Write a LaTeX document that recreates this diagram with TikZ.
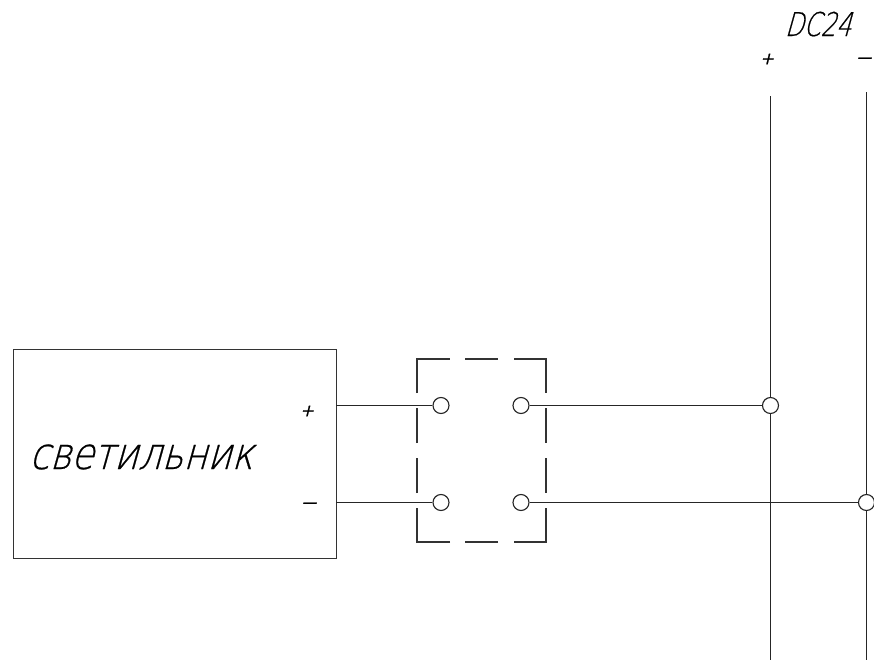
\documentclass[tikz,border=0pt]{standalone}
\usepackage{fontspec}
\newfontfamily\cadfont[FakeSlant=0.28,FakeStretch=0.835,FakeBold=0.5]{DejaVu Sans ExtraLight}
\newfontfamily\cadnarrow[FakeSlant=0.28,FakeStretch=0.74,FakeBold=0.5]{DejaVu Sans ExtraLight}
\newfontfamily\cadsign[FakeSlant=0.25,FakeBold=0.8]{DejaVu Sans}
\tikzset{
  x=0.75pt,y=-0.75pt,
  wire/.style={draw=black!85,line width=0.9pt},
  framebox/.style={draw=black!80,line width=0.85pt,line cap=butt},
  term/.style={circle,draw=black!85,fill=white,line width=0.85pt,minimum size=12pt,inner sep=0pt},
  lbl/.style={text=black,inner sep=0pt},
  sign/.style={lbl,font=\cadsign\fontsize{12.5}{12.5}\selectfont},
  minussign/.style={lbl,font=\cadsign\fontsize{11}{11}\selectfont}
}
\begin{document}
\begin{tikzpicture}
\useasboundingbox (0,0) rectangle (874,661);
\clip (0,0) rectangle (874,661);
\node[draw=black!80,line width=0.85pt,minimum width=242.25pt,minimum height=156.75pt,inner sep=0pt,anchor=north west] (lamp) at (13,349) {};
\coordinate (lampP) at (336,405.5);
\coordinate (lampM) at (336,502.5);
\coordinate (plusTop) at (770.5,96);
\coordinate (plusBot) at (770.5,660);
\coordinate (minusTop) at (866.5,92);
\coordinate (minusBot) at (866.5,660);
\draw[wire] (plusTop) -- (plusBot);
\draw[wire] (minusTop) -- (minusBot);
\draw[framebox] (417,393) -- (417,359) -- (450,359);
\draw[framebox] (465,359) -- (498,359);
\draw[framebox] (514,359) -- (546,359) -- (546,393);
\draw[framebox] (546,408) -- (546,443);
\draw[framebox] (546,458) -- (546,493);
\draw[framebox] (546,508) -- (546,542) -- (514,542);
\draw[framebox] (498,542) -- (465,542);
\draw[framebox] (450,542) -- (417,542) -- (417,508);
\draw[framebox] (417,493) -- (417,458);
\draw[framebox] (417,443) -- (417,408);
\node[term] (t1) at (441,405.5) {};
\node[term] (t2) at (441,502.5) {};
\node[term] (t3) at (521,405.5) {};
\node[term] (t4) at (521,502.5) {};
\node[term] (j1) at (770.5,405.5) {};
\node[term] (j2) at (866.5,502.5) {};
\draw[wire] (lampP) -- (t1);
\draw[wire] (lampM) -- (t2);
\draw[wire] (t3) -- (j1);
\draw[wire] (t4) -- (j2);
\node[lbl,font=\cadfont\fontsize{33}{33}\selectfont,anchor=base west] (name) at (29,469) {светильник};
\node[lbl,font=\cadnarrow\fontsize{24.6}{24.6}\selectfont,anchor=base] (dc) at (818,36) {DC24};
\node[sign] (p1) at (767,59) {+};
\node[minussign] (m1) at (864,60) {—};
\node[sign] (p2) at (307,411) {+};
\node[minussign] (m2) at (309,505) {—};
\end{tikzpicture}
\end{document}
